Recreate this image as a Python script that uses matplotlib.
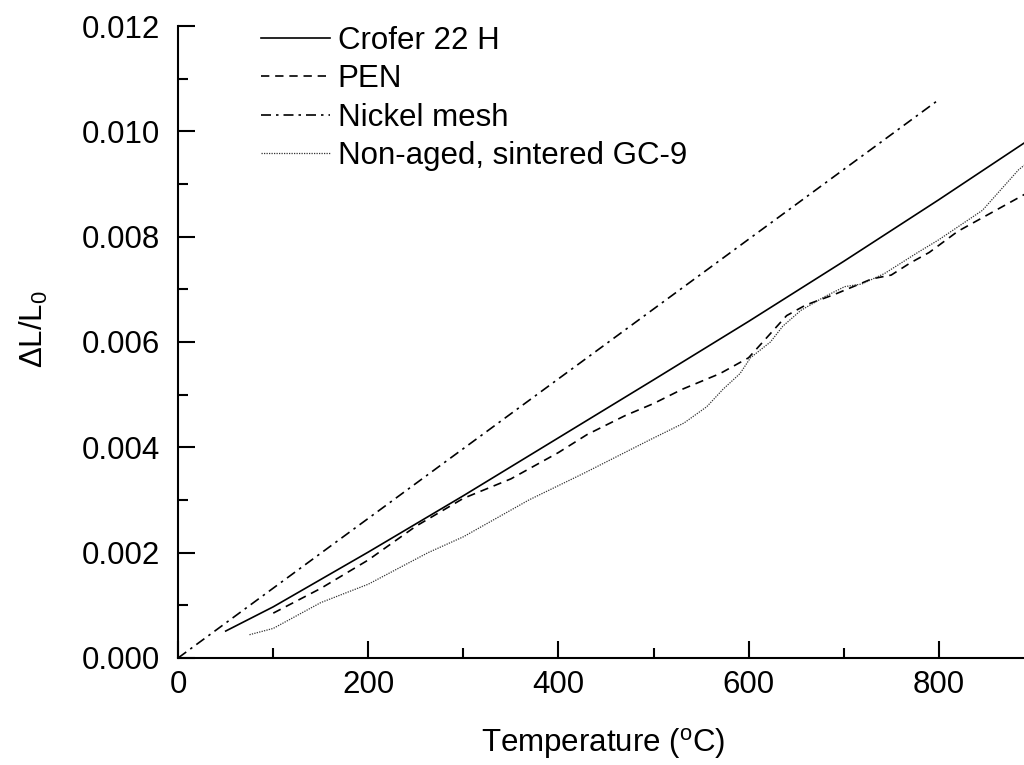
import matplotlib
matplotlib.use("Agg")
import matplotlib.pyplot as plt
from matplotlib.ticker import MultipleLocator, FormatStrFormatter

plt.rcParams['font.family'] = ['Liberation Sans', 'DejaVu Sans']
plt.rcParams['mathtext.fontset'] = 'custom'
plt.rcParams['mathtext.rm'] = 'Liberation Sans'
plt.rcParams['mathtext.it'] = 'Liberation Sans:italic'

# datos
crofer_t = [50, 100, 200, 300, 400, 500, 600, 700, 800, 900]
crofer_dl = [0.00051, 0.00097, 0.00201, 0.00308, 0.00418, 0.00528, 0.00639, 0.00753, 0.00870, 0.00990]

pen_t = [100, 150, 200, 250, 300, 350, 400, 430, 470, 500, 530, 570, 600, 620, 640, 660, 690,
         730, 750, 770, 790, 820, 860, 900]
pen_dl = [0.00085, 0.00132, 0.00186, 0.0025, 0.00303, 0.0034, 0.0039, 0.00424, 0.0046, 0.00483,
          0.0051, 0.0054, 0.0057, 0.0061, 0.0065, 0.0067, 0.0069, 0.0072, 0.00727, 0.0075, 0.0077,
          0.0081, 0.0085, 0.0089]

nickel_t = [0, 800]
nickel_dl = [0.0, 0.0106]

gc9_t = [75, 100, 150, 200, 263, 300, 369, 426, 496, 532, 556, 573, 591, 602, 623, 636, 655,
         680, 701, 719, 743, 778, 800, 846, 884, 900]
gc9_dl = [0.00044, 0.00056, 0.00105, 0.0014, 0.0020, 0.0023, 0.0030, 0.0035, 0.00414, 0.00446,
          0.00477, 0.0051, 0.0054, 0.0057, 0.0060, 0.0063, 0.0066, 0.00686, 0.00705, 0.0071,
          0.0073, 0.0077, 0.00794, 0.0085, 0.00927, 0.0095]

fig = plt.figure(figsize=(10.24, 7.65), dpi=100)
ax = fig.add_axes([0.174, 0.14, 0.83, 0.826])

ax.plot(crofer_t, crofer_dl, color='black', linewidth=1.2, linestyle='-', label='Crofer 22 H')
ax.plot(pen_t, pen_dl, color='black', linewidth=1.2, linestyle=(0, (5, 3.5)), label='PEN')
ax.plot(nickel_t, nickel_dl, color='black', linewidth=1.2, linestyle=(0, (6, 3, 1.5, 3)), label='Nickel mesh')
ax.plot(gc9_t, gc9_dl, color='#333333', linewidth=0.9, linestyle=(0, (1, 1)), label='Non-aged, sintered GC-9')

ax.set_xlim(0, 894)
ax.set_ylim(0, 0.012)
ax.xaxis.set_major_locator(MultipleLocator(200))
ax.xaxis.set_minor_locator(MultipleLocator(100))
ax.yaxis.set_major_locator(MultipleLocator(0.002))
ax.yaxis.set_minor_locator(MultipleLocator(0.001))
ax.yaxis.set_major_formatter(FormatStrFormatter('%.3f'))

ax.spines['top'].set_visible(False)
ax.spines['right'].set_visible(False)
ax.spines['left'].set_linewidth(1.5)
ax.spines['bottom'].set_linewidth(1.5)
ax.tick_params(which='major', direction='in', length=12, width=1.5, labelsize=22.5)
ax.tick_params(axis='y', which='major', pad=13)
ax.tick_params(axis='x', which='major', pad=9)
ax.tick_params(which='minor', direction='in', length=7, width=1.5)

ax.set_xlabel('Temperature ($^{\\rm o}$C)', fontsize=22.5)
ax.set_ylabel('$\\Delta$L/L$_0$', fontsize=22.5)
ax.xaxis.set_label_coords(0.5, -0.108)
ax.yaxis.set_label_coords(-0.151, 0.52)

ax.legend(loc='upper left', bbox_to_anchor=(0.072, 1.035), frameon=False, fontsize=22.5,
          handlelength=2.2, handletextpad=0.25, labelspacing=0.27, borderaxespad=0.3)

fig.savefig('out.png', dpi=100)
